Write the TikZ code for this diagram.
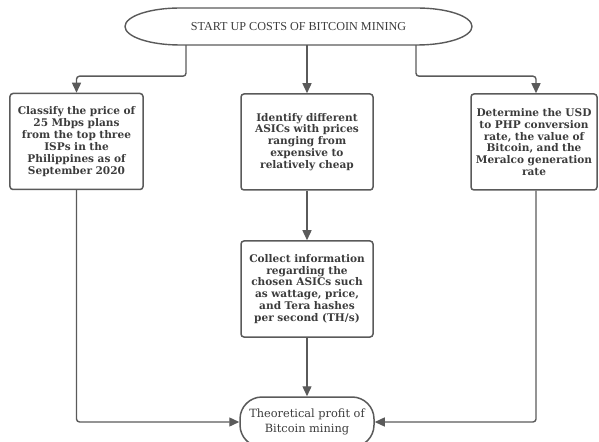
\documentclass[tikz,border=0pt]{standalone}
\usepackage{fontspec}
\setmainfont{DejaVu Serif}
\newfontfamily\titlefont{Liberation Serif}
\usetikzlibrary{arrows.meta}
\definecolor{linec}{HTML}{5A5A5A}
\definecolor{textc}{HTML}{3C3C3C}
\tikzset{
  procbox/.style={draw=linec, line width=1.5bp, rounded corners=3bp, align=center,
    text=textc, font=\bfseries\fontsize{10.6}{11.9}\selectfont, inner sep=0pt,
    minimum height=96bp},
  conn/.style={draw=linec, line width=1.4bp, rounded corners=3bp,
    -{Triangle[length=10bp,width=9bp]}},
}
\begin{document}
\begin{tikzpicture}[x=1bp,y=-1bp]
\useasboundingbox (0,0) rectangle (599,442);
% top terminator outline
\draw[linec, line width=1.4bp] (180,8) -- (417,8)
  arc[start angle=-90, end angle=90, x radius=55, y radius=18.5] -- (180,45)
  arc[start angle=90, end angle=270, x radius=55, y radius=18.5] -- cycle;
\node[minimum width=347bp, minimum height=37bp, inner sep=0pt, text=textc,
  font=\titlefont\fontsize{12.2}{14}\selectfont] (top) at (298.5,26.5) {START UP COSTS OF BITCOIN MINING};

\node[procbox, minimum width=133bp, text width=131bp] (cls) at (76.5,141.5)
  {Classify the price of\\25 Mbps plans\\from the top three\\ISPs in the\\Philippines as of\\September 2020};
\node[procbox, minimum width=132bp, text width=130bp] (asic) at (307,142)
  {Identify different\\ASICs with prices\\ranging from\\expensive to\\relatively cheap};
\node[procbox, minimum width=126bp, text width=124bp] (usd) at (534,142)
  {Determine the USD\\to PHP conversion\\rate, the value of\\Bitcoin, and the\\Meralco generation\\rate};
\node[procbox, minimum width=132bp, text width=130bp] (info) at (307,289)
  {Collect information\\regarding the\\chosen ASICs such\\as wattage, price,\\and Tera hashes\\per second (TH/s)};
\node[draw=linec, line width=1.5bp, rounded corners=22bp, minimum width=134bp,
  minimum height=50bp, inner sep=0pt, align=center, text=textc,
  font=\fontsize{11.4}{14.5}\selectfont] (final) at (307,422)
  {Theoretical profit of\\Bitcoin mining};

\draw[conn] ([xshift=-112.5bp]top.south) -- ++(0,31) -| (cls.north);
\draw[conn] (asic.north |- top.south) -- (asic.north);
\draw[conn] ([xshift=117.5bp]top.south) -- ++(0,31) -| ([xshift=2bp]usd.north);
\draw[conn] (asic.south) -- (info.north);
\draw[conn] (info.south) -- (final.north);
\draw[conn] (cls.south) |- (final.west);
\draw[conn] ([xshift=2bp]usd.south) |- (final.east);
\end{tikzpicture}
\end{document}
